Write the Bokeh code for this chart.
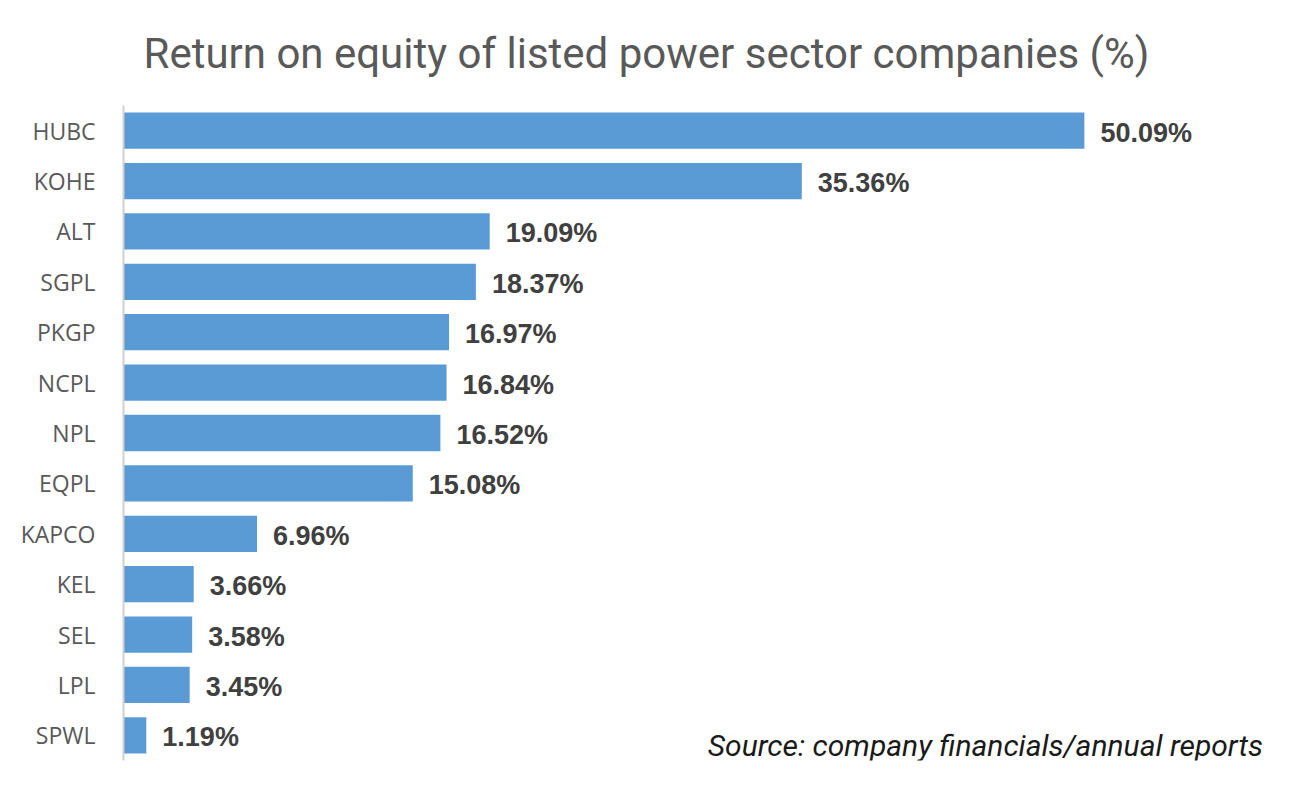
from bokeh.plotting import figure
from bokeh.models import ColumnDataSource, FactorRange, Range1d, Title
from bokeh.core.properties import value
from bokeh.embed import file_html
from bokeh.resources import INLINE

companies = ["HUBC", "KOHE", "ALT", "SGPL", "PKGP", "NCPL", "NPL", "EQPL",
             "KAPCO", "KEL", "SEL", "LPL", "SPWL"]
roe = [50.09, 35.36, 19.09, 18.37, 16.97, 16.84, 16.52, 15.08,
       6.96, 3.66, 3.58, 3.45, 1.19]
labels = [f"{v:.2f}%" for v in roe]
source_note = "Source: company financials/annual reports"
title_text = "Return on equity of listed power sector companies (%)"

src = ColumnDataSource(dict(company=companies, roe=roe, label=labels))

p = figure(width=1292, height=787, output_backend="svg", toolbar_location=None,
           y_range=FactorRange(factors=companies[::-1], range_padding=0),
           x_range=Range1d(0, 60),
           min_border_left=123, min_border_right=18,
           min_border_top=105, min_border_bottom=27)

p.hbar(y="company", right="roe", height=0.72, source=src,
       fill_color="#5b9bd5", line_color=None)

p.text(x="roe", y="company", text="label", source=src,
       x_offset=16, y_offset=2,
       text_font=value("Liberation Sans"), text_font_style="bold",
       text_font_size="27px", text_color="#404040",
       text_baseline="middle", text_align="left")

p.text(x=[59.4], y=[0.3], text=[source_note],
       text_font=value("Roboto"), text_font_style="italic",
       text_font_size="30px", text_color="#1a1a1a",
       text_baseline="middle", text_align="right")

t = Title(text=title_text, align="left", text_font="Roboto",
          text_font_size="42px", text_font_style="normal", text_color="#595959",
          offset=20, standoff=52, vertical_align="top")
p.add_layout(t, "above")

p.xaxis.visible = False
p.xgrid.visible = False
p.ygrid.visible = False
p.outline_line_color = None

yax = p.yaxis[0]
yax.axis_line_color = "#d0d0d0"
yax.axis_line_width = 2
yax.major_tick_line_color = None
yax.minor_tick_line_color = None
yax.major_label_standoff = 22
yax.major_label_text_font = "Open Sans"
yax.major_label_text_font_size = "23px"
yax.major_label_text_color = "#595959"

p.background_fill_color = "white"
p.border_fill_color = "white"

open("out.html", "w").write(file_html(p, INLINE))
